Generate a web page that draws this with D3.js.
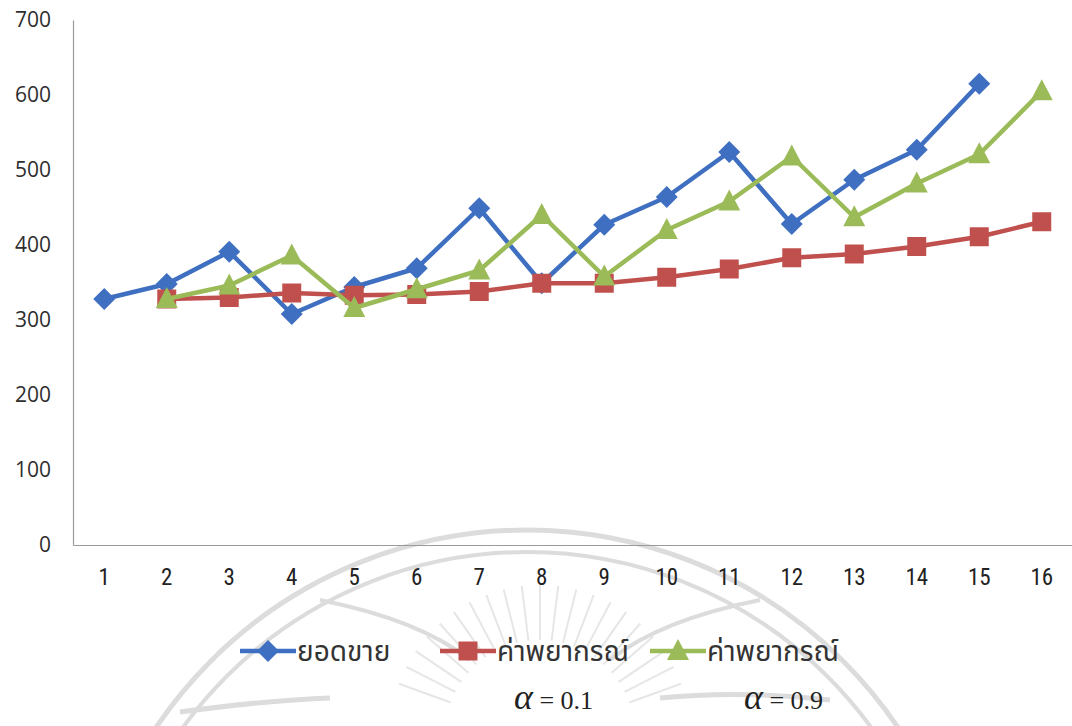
<!DOCTYPE html>
<html>
<head>
<meta charset="utf-8">
<script src="https://cdn.jsdelivr.net/npm/d3@7"></script>
<style>
  html, body { margin: 0; padding: 0; background: #ffffff; }
  svg { display: block; }
</style>
</head>
<body>
<svg id="chart" width="1072" height="726"></svg>
<script>
// Periods 1–16
const periods = ["1","2","3","4","5","6","7","8","9","10","11","12","13","14","15","16"];

// Actual sales (periods 1–15)
const sales = [328, 348, 391, 308, 344, 369, 449, 349, 427, 464, 524, 428, 487, 527, 615, null];

// Exponential smoothing forecast, alpha = 0.1 (periods 2–16)
const forecastA01 = [null, 328, 330, 336, 333, 334, 338, 349, 349, 357, 368, 383, 388, 398, 411, 431];

// Exponential smoothing forecast, alpha = 0.9 (periods 2–16)
const forecastA09 = [null, 328, 346, 386, 316, 341, 366, 440, 358, 420, 458, 518, 437, 482, 521, 605];

const yTicks = [0, 100, 200, 300, 400, 500, 600, 700];

const legendNames = ["ยอดขาย", "ค่าพยากรณ์", "ค่าพยากรณ์"];
const alphaLabels = ["0.1", "0.9"];

const svg = d3.select("#chart");
const plotL = 73, plotR = 1073, plotT = 20, plotB = 545;

// Faint emblem in the background
const wm = svg.append("g").attr("fill", "none").attr("stroke", "#dcdcdc");
wm.append("circle").attr("cx", 527).attr("cy", 977).attr("r", 447).attr("stroke-width", 5);
wm.append("circle").attr("cx", 527).attr("cy", 977).attr("r", 425).attr("stroke-width", 4);
const rays = d3.range(-70, 71, 7);
wm.selectAll("line.ray").data(rays).enter().append("line")
  .attr("x1", d => 540 + 95 * Math.sin(d * Math.PI / 180))
  .attr("y1", d => 735 - 95 * Math.cos(d * Math.PI / 180))
  .attr("x2", d => 540 + 150 * Math.sin(d * Math.PI / 180))
  .attr("y2", d => 735 - 150 * Math.cos(d * Math.PI / 180))
  .attr("stroke-width", 2).attr("stroke", "#e6e6e6");
wm.append("path").attr("d", "M180,712 Q270,700 330,698").attr("stroke-width", 5);
wm.append("path").attr("d", "M660,698 Q740,690 830,700").attr("stroke-width", 5);
wm.append("path").attr("d", "M320,600 Q420,620 470,660").attr("stroke-width", 4);
wm.append("path").attr("d", "M760,600 Q660,620 610,660").attr("stroke-width", 4);

const x = d3.scaleBand().domain(periods).range([plotL, plotR]);
const y = d3.scaleLinear().domain([0, 700]).range([plotB, plotT]);
const cx = p => x(p) + x.bandwidth() / 2;

// Axes
const yAxis = svg.append("g").attr("transform", `translate(${plotL},0)`)
  .call(d3.axisLeft(y).tickValues(yTicks).tickSize(0).tickPadding(22));
yAxis.select(".domain").attr("stroke", "#9a9a9a").attr("stroke-width", 1.2);
yAxis.selectAll("text")
  .attr("font-family", "'Open Sans', 'DejaVu Sans', sans-serif")
  .attr("font-size", 21).attr("font-weight", 500).attr("fill", "#2e2e2e");

const xAxis = svg.append("g").attr("transform", `translate(0,${plotB})`)
  .call(d3.axisBottom(x).tickSize(0).tickPadding(24));
xAxis.select(".domain").attr("stroke", "#9a9a9a").attr("stroke-width", 1.2);
xAxis.selectAll("text")
  .attr("font-family", "'Liberation Sans Narrow', 'Roboto Condensed', 'Open Sans', sans-serif")
  .attr("font-size", 23).attr("fill", "#222");

// Series
const series = [
  { values: sales, color: "#3f6fc1", shape: "diamond" },
  { values: forecastA01, color: "#c0504d", shape: "square" },
  { values: forecastA09, color: "#9bbb59", shape: "triangle" }
];

const symbolPath = {
  diamond: "M0,-11 L11,0 L0,11 L-11,0 Z",
  square: "M-9.5,-9.5 L9.5,-9.5 L9.5,9.5 L-9.5,9.5 Z",
  triangle: "M0,-12 L11,9 L-11,9 Z"
};

const line = d3.line()
  .defined(d => d.v !== null)
  .x(d => cx(d.p))
  .y(d => y(d.v));

series.forEach(s => {
  const pts = periods.map((p, i) => ({ p, v: s.values[i] }));
  svg.append("path").datum(pts)
    .attr("d", line)
    .attr("fill", "none")
    .attr("stroke", s.color)
    .attr("stroke-width", 4.5)
    .attr("stroke-linejoin", "round");
  svg.append("g").selectAll("path")
    .data(pts.filter(d => d.v !== null))
    .enter().append("path")
    .attr("transform", d => `translate(${cx(d.p)},${y(d.v)})`)
    .attr("d", symbolPath[s.shape])
    .attr("fill", s.color);
});

// Legend
const legendX = [240, 440, 650];
const legendY = 651;
const thaiFont = "'Noto Sans Thai', 'Noto Sans Thai UI', 'Garuda', 'Loma', 'Norasi', sans-serif";
series.forEach((s, i) => {
  const g = svg.append("g").attr("transform", `translate(${legendX[i]},${legendY})`);
  g.append("line").attr("x1", 0).attr("x2", 56).attr("y1", 0).attr("y2", 0)
    .attr("stroke", s.color).attr("stroke-width", 4.5);
  g.append("path").attr("transform", "translate(28,0)")
    .attr("d", symbolPath[s.shape]).attr("fill", s.color);
  g.append("text").attr("x", 57).attr("y", 10)
    .attr("font-family", thaiFont).attr("font-size", 28).attr("fill", "#333")
    .text(legendNames[i]);
});

// Smoothing constants under the forecast entries
const alphaX = [514, 744];
alphaLabels.forEach((a, i) => {
  const t = svg.append("text").attr("x", alphaX[i]).attr("y", 709)
    .attr("font-family", "'Liberation Serif', 'DejaVu Serif', serif").attr("fill", "#222");
  t.append("tspan").attr("font-size", 36).attr("font-style", "italic").text("α");
  t.append("tspan").attr("font-size", 26).text(" = " + a);
});
</script>
</body>
</html>
